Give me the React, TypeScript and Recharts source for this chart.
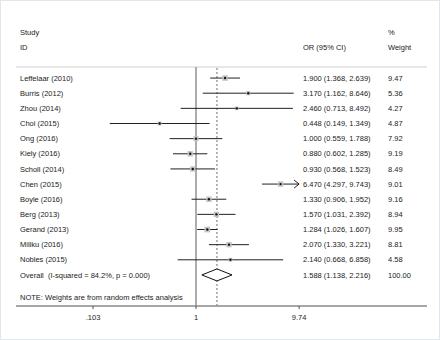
import { ComposedChart, Scatter, XAxis, YAxis, ReferenceLine, Customized } from 'recharts';

const studies = [
  'Leffelaar (2010)', 'Burris (2012)', 'Zhou (2014)', 'Choi (2015)', 'Ong (2016)', 'Kiely (2016)',
  'Scholl (2014)', 'Chen (2015)', 'Boyle (2016)', 'Berg (2013)', 'Gerand (2013)', 'Miliku (2016)', 'Nobles (2015)',
];
const oddsRatios = [1.9, 3.17, 2.46, 0.448, 1.0, 0.88, 0.93, 6.47, 1.33, 1.57, 1.284, 2.07, 2.14];
const lowerCI = [1.368, 1.162, 0.713, 0.149, 0.559, 0.602, 0.568, 4.297, 0.906, 1.031, 1.026, 1.33, 0.668];
const upperCI = [2.639, 8.646, 8.492, 1.349, 1.788, 1.285, 1.523, 9.743, 1.952, 2.392, 1.607, 3.221, 6.858];
const weights = [9.47, 5.36, 4.27, 4.87, 7.92, 9.19, 8.49, 9.01, 9.16, 8.94, 9.95, 8.81, 4.58];

const overallOR = 1.588;
const overallLower = 1.138;
const overallUpper = 2.216;
const overallLabel = 'Overall  (I-squared = 84.2%, p = 0.000)';
const noteLabel = 'NOTE: Weights are from random effects analysis';

const xTicks = [0.103, 1, 9.74];
const xMin = xTicks[0];
const xMax = xTicks[xTicks.length - 1];

const FONT = 'Liberation Sans, Arial, sans-serif';
const FS = 7.5;
const INK = '#222';

const overallRow = studies.length;
const noteRow = studies.length + 1.5;

const fmt = (v: number) => v.toFixed(3);

const rows = studies.map((s, i) => ({ x: oddsRatios[i], y: i, w: weights[i] }));

// one text row per study, then the pooled row and the note
const textRows = [
  ...studies.map((s, i) => ({
    x: 1,
    y: i,
    name: s,
    ci: `${fmt(oddsRatios[i])} (${fmt(lowerCI[i])}, ${fmt(upperCI[i])})`,
    wt: weights[i].toFixed(2),
  })),
  { x: 1, y: overallRow, name: overallLabel, ci: `${fmt(overallOR)} (${fmt(overallLower)}, ${fmt(overallUpper)})`, wt: '100.00' },
  { x: 1, y: noteRow, name: noteLabel, ci: '', wt: '' },
];

const RowText = (props: any) => {
  const { cy, payload } = props;
  return (
    <g fontFamily={FONT} fontSize={FS} fill={INK}>
      <text x={20} y={cy} dy="0.35em" style={{ whiteSpace: 'pre' }}>{payload.name}</text>
      <text x={303} y={cy} dy="0.35em">{payload.ci}</text>
      <text x={388} y={cy} dy="0.35em">{payload.wt}</text>
    </g>
  );
};

const StudyMarker = (props: any) => {
  const { cx, cy, payload } = props;
  const side = 1.8 * Math.sqrt(payload.w);
  return (
    <g>
      <rect x={cx - side / 2} y={cy - side / 2} width={side} height={side} fill="#c4c4c4" />
      <circle cx={cx} cy={cy} r={1.2} fill="#111" />
    </g>
  );
};

const ArrowLine = (props: any) => {
  const { x1, y1, x2, y2 } = props;
  return (
    <g stroke="#222" strokeWidth={1} fill="none">
      <line x1={x1} y1={y1} x2={x2} y2={y2} />
      <polyline points={`${x2 - 5},${y2 - 4} ${x2},${y2} ${x2 - 5},${y2 + 4}`} />
    </g>
  );
};

const Diamond = (props: any) => {
  const { x1, y1, x2 } = props;
  const mid = (x1 + x2) / 2;
  return (
    <polygon
      points={`${x1},${y1} ${mid},${y1 - 6} ${x2},${y1} ${mid},${y1 + 6}`}
      fill="#fff"
      stroke="#111"
      strokeWidth={1}
    />
  );
};

const Header = () => (
  <g fontFamily={FONT} fontSize={FS} fill={INK}>
    <rect x={0.5} y={0.5} width={439} height={339} fill="none" stroke="#dfe7ec" />
    <text x={20} y={32} dy="0.35em">Study</text>
    <text x={20} y={47} dy="0.35em">ID</text>
    <text x={303} y={47} dy="0.35em">OR (95% CI)</text>
    <text x={388} y={32} dy="0.35em">%</text>
    <text x={388} y={47} dy="0.35em">Weight</text>
  </g>
);

export default function App() {
  return (
    <div style={{ position: 'fixed', left: 0, top: 0, width: 440, height: 340, background: '#fff' }}>
      <ComposedChart width={440} height={340} margin={{ top: 67, right: 13, bottom: 4, left: 16 }}>
        <Customized component={Header} />
        <XAxis
          type="number"
          dataKey="x"
          scale="log"
          domain={[0.0188, 164]}
          allowDataOverflow
          ticks={xTicks}
          tickFormatter={(v) => String(v).replace(/^0\./, '.')}
          axisLine={{ stroke: '#8a8a8a', strokeWidth: 1.5 }}
          tickLine={{ stroke: '#555' }}
          tickSize={3}
          tickMargin={6}
          height={30}
          tick={{ fontFamily: FONT, fontSize: FS, fill: INK }}
        />
        <YAxis type="number" dataKey="y" domain={[-0.73, 15.05]} reversed allowDataOverflow hide />
        <ReferenceLine y={-0.73} stroke="#cfcfcf" strokeWidth={1} />
        <ReferenceLine x={1} stroke="#999" strokeWidth={1.6} />
        <ReferenceLine x={overallOR} stroke="#888" strokeWidth={1.2} strokeDasharray="2 2" />
        {studies.map((s, i) => (
          <ReferenceLine
            key={s}
            segment={[
              { x: Math.max(lowerCI[i], xMin), y: i },
              { x: Math.min(upperCI[i], xMax), y: i },
            ]}
            stroke="#222"
            strokeWidth={1}
            shape={upperCI[i] > xMax ? ArrowLine : undefined}
          />
        ))}
        <ReferenceLine
          segment={[
            { x: overallLower, y: overallRow },
            { x: overallUpper, y: overallRow },
          ]}
          shape={Diamond}
        />
        <Scatter data={rows} shape={StudyMarker} isAnimationActive={false} />
        <Scatter data={textRows} shape={RowText} isAnimationActive={false} />
      </ComposedChart>
    </div>
  );
}
